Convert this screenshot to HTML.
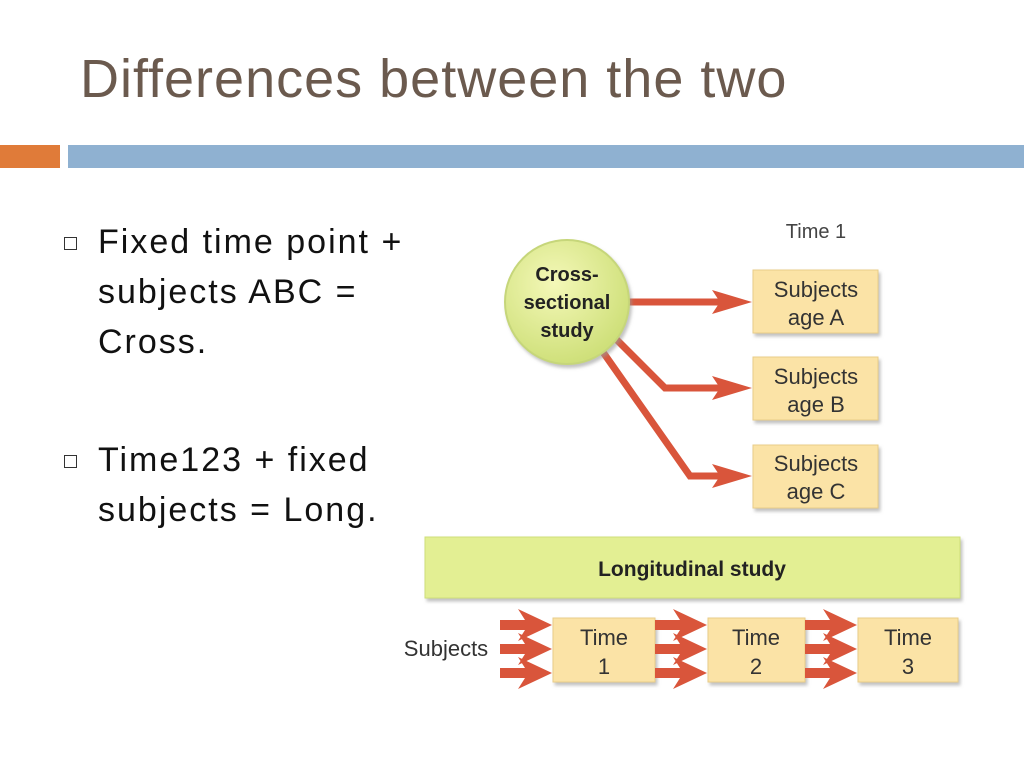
<!DOCTYPE html>
<html><head><meta charset="utf-8"><style>
body{margin:0;width:1024px;height:768px;background:#fff;position:relative;overflow:hidden;font-family:"Liberation Sans",sans-serif}
.t{position:absolute;left:80px;top:48px;font-size:54px;color:#6b5a4e;letter-spacing:1px}
.b{position:absolute;font-size:34px;color:#111;line-height:50px;letter-spacing:2px}
.sq{position:absolute;width:11px;height:11px;border:1.5px solid #333}
</style></head><body>
<div class="t">Differences between the two</div>
<div style="position:absolute;left:0;top:145px;width:60px;height:23px;background:#e07b39"></div>
<div style="position:absolute;left:68px;top:145px;width:956px;height:23px;background:#8fb1d1"></div>
<div class="sq" style="left:64px;top:237px"></div>
<div class="b" style="left:98px;top:217px">Fixed time point +<br>subjects ABC =<br>Cross.</div>
<div class="sq" style="left:64px;top:455px"></div>
<div class="b" style="left:98px;top:435px">Time123 + fixed<br>subjects = Long.</div>
<svg width="1024" height="768" style="position:absolute;left:0;top:0" font-family="Liberation Sans, sans-serif">
<defs>
<radialGradient id="g" cx="40%" cy="35%" r="65%"><stop offset="0" stop-color="#f4f8b8"/><stop offset="1" stop-color="#cfe07a"/></radialGradient>
<filter id="s"><feDropShadow dx="2" dy="3" stdDeviation="1.5" flood-color="#999" flood-opacity="0.6"/></filter>
</defs>
<g fill="none" stroke="#d9553b" stroke-width="7">
<path d="M620 302H720"/>
<path d="M612 335L665 388H720"/>
<path d="M598 345L690 476H720"/>
</g>
<g fill="#d9553b">
<path d="M712 290L752 302L712 314L720 302Z"/>
<path d="M712 376L752 388L712 400L720 388Z"/>
<path d="M712 464L752 476L712 488L720 476Z"/>
</g>
<circle cx="567" cy="302" r="62" fill="url(#g)" stroke="#c6d67a" stroke-width="2" filter="url(#s)"/>
<g font-weight="bold" font-size="20" text-anchor="middle" fill="#222">
<text x="567" y="281">Cross-</text><text x="567" y="309">sectional</text><text x="567" y="337">study</text></g>
<text x="816" y="238" font-size="20" text-anchor="middle" fill="#444">Time 1</text>
<g fill="#fbe3a6" stroke="#e8cc88" filter="url(#s)">
<rect x="753" y="270" width="125" height="63"/><rect x="753" y="357" width="125" height="63"/><rect x="753" y="445" width="125" height="63"/>
<rect x="553" y="618" width="102" height="64"/><rect x="708" y="618" width="97" height="64"/><rect x="858" y="618" width="100" height="64"/>
</g>
<rect x="425" y="537" width="535" height="61" fill="#e3ef93" stroke="#cfdf7a" filter="url(#s)"/>
<g font-size="22" text-anchor="middle" fill="#333">
<text x="816" y="297">Subjects</text><text x="816" y="325">age A</text>
<text x="816" y="384">Subjects</text><text x="816" y="412">age B</text>
<text x="816" y="471">Subjects</text><text x="816" y="499">age C</text>
<text x="604" y="645">Time</text><text x="604" y="674">1</text>
<text x="756" y="645">Time</text><text x="756" y="674">2</text>
<text x="908" y="645">Time</text><text x="908" y="674">3</text>
<text x="446" y="656">Subjects</text>
</g>
<text x="692" y="576" font-size="21" font-weight="bold" text-anchor="middle" fill="#222">Longitudinal study</text>
<g fill="#d9553b">
<g id="a"><path d="M500 620H525L518 609L552 625L518 641L525 630H500Z"/><path d="M500 644H525L518 633L552 649L518 665L525 654H500Z"/><path d="M500 668H525L518 657L552 673L518 689L525 678H500Z"/></g>
<use href="#a" x="155"/><use href="#a" x="305"/>
</g>
</svg>
</body></html>
